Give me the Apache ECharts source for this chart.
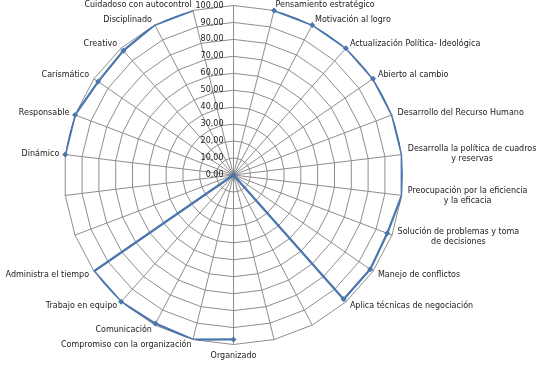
<!DOCTYPE html>
<html>
<head>
<meta charset="utf-8">
<script src="https://cdn.jsdelivr.net/npm/echarts@6/dist/echarts.min.js"></script>
<style>
html,body{margin:0;padding:0;background:#ffffff;}
#chart{width:541px;height:366px;}
</style>
</head>
<body>
<div id="chart"></div>
<script>
// Categories in clockwise order starting at the top spoke (Excel order)
const categories = [
  '',
  'Pensamiento estratégico',
  'Motivación al logro',
  'Actualización Política- Ideológica',
  'Abierto al cambio',
  'Desarrollo del Recurso Humano',
  'Desarrolla la política de cuadros\ny reservas',
  'Preocupación por la eficiencia\ny la eficacia',
  'Solución de problemas y toma\nde decisiones',
  'Manejo de conflictos',
  'Aplica técnicas de negociación',
  '',
  '',
  'Organizado',
  'Compromiso con la organización',
  'Comunicación',
  'Trabajo en equipo',
  'Administra el tiempo',
  '',
  '',
  'Dinámico',
  'Responsable',
  'Carismático',
  'Creativo',
  'Disciplinado',
  'Cuidadoso con autocontrol'
];
const values = [
  null, 100, 100, 100, 100, 100, 100, 100, 97, 98, 98, 0, null,
  97, 100, 99, 100, 100, 0, null, 100, 100, 97, 98, 100, 100
];
const tickLabels = ['0,00','10,00','20,00','30,00','40,00','50,00','60,00','70,00','80,00','90,00','100,00'];

const CENTER = [233.5, 175];
const RADIUS = 169.5;
const FONT = 'DejaVu Sans';
const gridColor = '#8e8e8e';
const lineColor = '#4A76AD';

// ECharts radar lays indicators counter-clockwise; reverse to get clockwise order
const radarOrder = [0].concat(categories.map((_, i) => i).slice(1).reverse());
const indicators = radarOrder.map(i => ({ name: categories[i], min: 0, max: 100 }));

const chart = echarts.init(document.getElementById('chart'), null, { renderer: 'canvas' });
chart.setOption({
  animation: false,
  backgroundColor: '#ffffff',
  radar: {
    center: CENTER,
    radius: RADIUS,
    startAngle: 90,
    shape: 'polygon',
    splitNumber: 10,
    indicator: indicators,
    nameGap: 6,
    axisName: {
      color: '#1a1a1a',
      fontSize: 8,
      fontFamily: FONT,
      formatter: function (name) {
        if (!name) return '';
        return name.split('\n').map(s => '{c|' + s + '}').join('\n');
      },
      rich: {
        c: { align: 'center', fontSize: 8, fontFamily: FONT, color: '#1a1a1a', lineHeight: 10 }
      }
    },
    axisLine: { lineStyle: { color: gridColor, width: 1 } },
    splitLine: { lineStyle: { color: gridColor, width: 1 } },
    splitArea: { show: false },
    axisTick: { show: false },
    axisLabel: { show: false }
  },
  polar: {
    center: CENTER,
    radius: RADIUS
  },
  angleAxis: {
    type: 'category',
    data: categories,
    startAngle: 90,
    clockwise: true,
    boundaryGap: false,
    axisLine: { show: false },
    axisTick: { show: false },
    axisLabel: { show: false },
    splitLine: { show: false }
  },
  radiusAxis: {
    type: 'value',
    min: 0,
    max: 100,
    interval: 10,
    axisLine: { show: false },
    axisTick: { show: false },
    splitLine: { show: false },
    axisLabel: {
      fontSize: 8,
      fontFamily: FONT,
      color: '#1a1a1a',
      margin: 10,
      formatter: function (v) { return tickLabels[Math.round(v / 10)]; }
    }
  },
  series: [{
    type: 'line',
    coordinateSystem: 'polar',
    data: values,
    connectNulls: false,
    symbol: 'diamond',
    symbolSize: 6,
    showSymbol: true,
    silent: true,
    lineStyle: { color: lineColor, width: 2.25 },
    itemStyle: { color: lineColor }
  }]
});
</script>
</body>
</html>
